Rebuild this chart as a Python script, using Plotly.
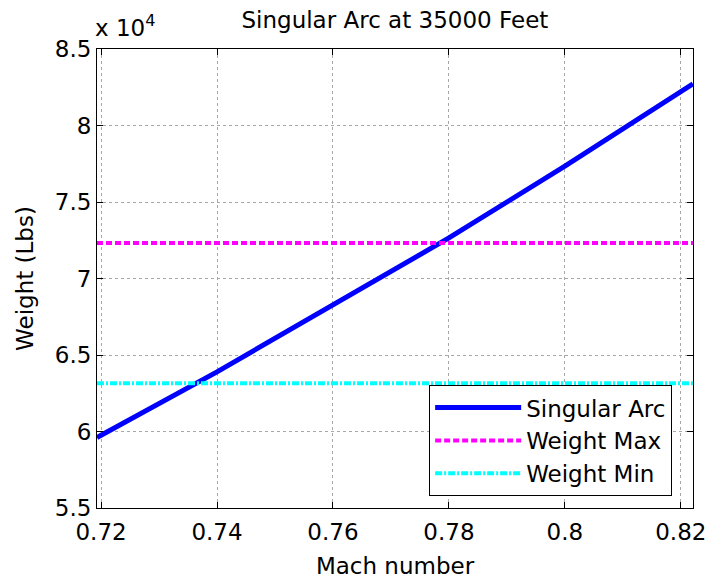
import plotly.graph_objects as go

# Singular arc: aircraft weight along the arc versus Mach number
mach = [0.7193, 0.72, 0.74, 0.76, 0.78, 0.80, 0.82, 0.8221]
weight = [59610, 59750, 63900, 68270, 72650, 77350, 82200, 82720]

# Weight bounds (lbs)
weight_max = 72320
weight_min = 63150

x_range = [0.7193, 0.8221]
y_range = [55000, 85000]

x_ticks = [0.72, 0.74, 0.76, 0.78, 0.80, 0.82]
x_tick_text = ["0.72", "0.74", "0.76", "0.78", "0.8", "0.82"]
y_ticks = [55000, 60000, 65000, 70000, 75000, 80000, 85000]
y_tick_text = ["5.5", "6", "6.5", "7", "7.5", "8", "8.5"]

FONT = "DejaVu Sans, Liberation Sans, sans-serif"
SIZE = 23

fig = go.Figure()
fig.add_trace(go.Scatter(
    x=mach, y=weight, mode="lines", name="Singular Arc",
    line=dict(color="#0000ff", width=5),
))
fig.add_trace(go.Scatter(
    x=x_range, y=[weight_max, weight_max], mode="lines", name="Weight Max",
    line=dict(color="#ff00ff", width=4, dash="6px,3px"),
))
fig.add_trace(go.Scatter(
    x=x_range, y=[weight_min, weight_min], mode="lines", name="Weight Min",
    line=dict(color="#00ffff", width=4, dash="7px,2px,2px,2px"),
))

axis_common = dict(
    showline=True, linecolor="black", linewidth=1, mirror="allticks",
    ticks="inside", ticklen=6, tickcolor="black", tickwidth=1,
    showgrid=True, gridcolor="#a8a8a8", gridwidth=1, griddash="dot",
    zeroline=False, automargin=False,
    tickfont=dict(family=FONT, size=SIZE, color="black"),
)

fig.update_xaxes(
    range=x_range, tickvals=x_ticks, ticktext=x_tick_text, ticklabelstandoff=3,
    title=dict(text="Mach number", font=dict(family=FONT, size=SIZE, color="black"), standoff=18),
    **axis_common,
)
fig.update_yaxes(
    range=y_range, tickvals=y_ticks, ticktext=y_tick_text,
    title=dict(text="Weight (Lbs)", font=dict(family=FONT, size=SIZE, color="black"), standoff=14),
    **axis_common,
)

fig.add_annotation(
    x=0, y=1, xref="paper", yref="paper", xanchor="left", yanchor="bottom",
    text="x 10<sup>4</sup>", showarrow=False, xshift=-4, yshift=6,
    font=dict(family=FONT, size=SIZE, color="black"),
)

fig.update_layout(
    width=709, height=579,
    margin=dict(l=97, r=16, t=49, b=71, autoexpand=False),
    paper_bgcolor="white", plot_bgcolor="white",
    title=dict(
        text="Singular Arc at 35000 Feet", x=0.557, xanchor="center",
        y=1 - 20 / 579, yanchor="middle", yref="container",
        font=dict(family=FONT, size=SIZE, color="black"),
    ),
    legend=dict(
        x=0.965, y=0.026, xanchor="right", yanchor="bottom",
        bgcolor="white", bordercolor="black", borderwidth=1,
        font=dict(family=FONT, size=SIZE, color="black"),
        itemwidth=86, tracegroupgap=0,
    ),
    showlegend=True,
)

fig.write_html("out.html")
